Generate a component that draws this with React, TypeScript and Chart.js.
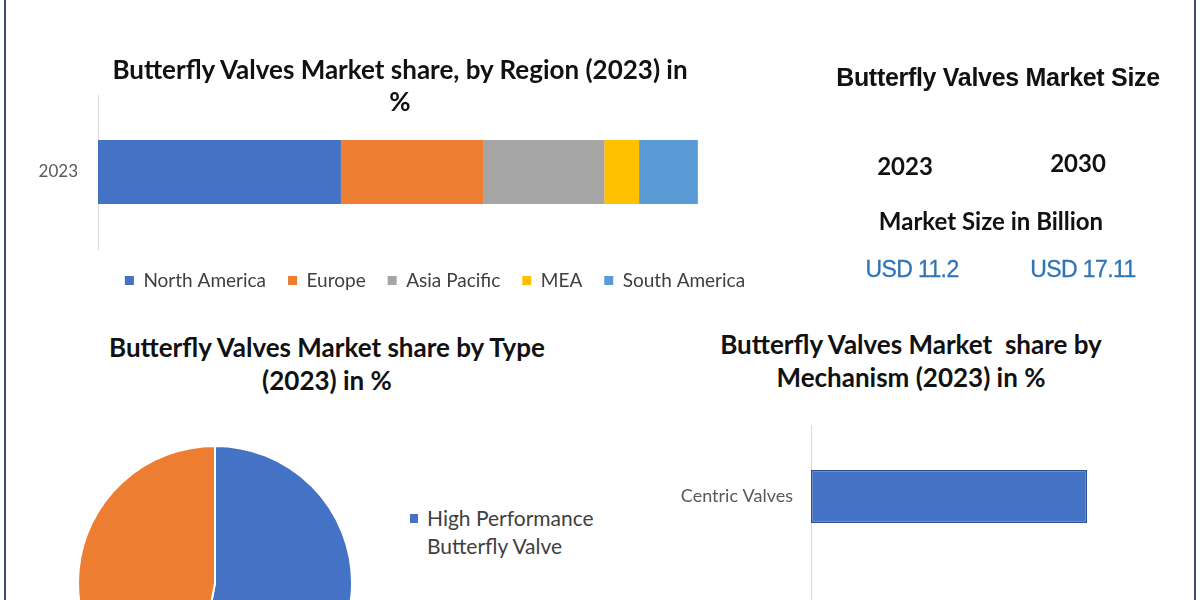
import React, { useEffect, useRef } from "react";
import { Chart, registerables } from "chart.js";

Chart.register(...registerables);

// ---- Data ----
const regionCategories = ["2023"];
const regionNames = ["North America", "Europe", "Asia Pacific", "MEA", "South America"];
const regionShares = [40.5, 23.7, 20.2, 5.8, 9.8];

const typeNames = ["High Performance Butterfly Valve", "Resilient Butterfly Valve"];
const typeLegendLines = [["High Performance", "Butterfly Valve"], ["Resilient", "Butterfly Valve"]];
const typeShares = [53, 47];

const mechanismNames = ["Centric Valves", "Eccentric Valves"];
const mechanismShares = [57, 43];

const marketYears = ["2023", "2030"];
const marketValues = ["11.2", "17.11"];

// ---- Styles ----
const REGION_COLORS = ["#4472C4", "#ED7D31", "#A5A5A5", "#FFC000", "#5B9BD5"];
const TYPE_COLORS = ["#4472C4", "#ED7D31"];
const FONT = "Lato, 'Open Sans', sans-serif";
const ARIAL = "'Liberation Sans', Arial, sans-serif";

function ChartCanvas({ config, style }: { config: any; style: React.CSSProperties }) {
  const ref = useRef<HTMLCanvasElement | null>(null);
  useEffect(() => {
    if (!ref.current) return;
    const chart = new Chart(ref.current, config);
    return () => chart.destroy();
  }, []);
  return (
    <canvas
      ref={ref}
      width={style.width as number}
      height={style.height as number}
      style={{ position: "absolute", display: "block", ...style }}
    />
  );
}

Chart.defaults.font.family = FONT;

const regionConfig = {
  type: "bar",
  data: {
    labels: regionCategories,
    datasets: regionNames.map((name, i) => ({
      label: name,
      data: [regionShares[i]],
      backgroundColor: REGION_COLORS[i],
      borderWidth: 0,
      barPercentage: 0.415,
      categoryPercentage: 1,
    })),
  },
  options: {
    indexAxis: "y",
    responsive: false,
    animation: false,
    layout: { padding: { top: 95, right: 0, left: 0, bottom: 0 } },
    scales: {
      x: { stacked: true, min: 0, max: 128.7, display: false },
      y: {
        stacked: true,
        grid: { display: false, drawTicks: false },
        border: { display: true, color: "#D9D9D9", width: 1 },
        ticks: { font: { size: 17, family: FONT }, color: "#595959", padding: 20 },
        afterFit: (s: any) => {
          s.width = 98;
          s.paddingTop = 0;
          s.paddingBottom = 0;
        },
      },
    },
    plugins: {
      legend: {
        position: "bottom",
        labels: {
          boxWidth: 9,
          boxHeight: 9,
          padding: 22,
          color: "#404040",
          font: { size: 19, family: FONT },
        },
      },
      tooltip: { enabled: false },
    },
  },
};

const typeConfig = {
  type: "pie",
  data: {
    labels: typeNames,
    datasets: [
      {
        data: typeShares,
        backgroundColor: TYPE_COLORS,
        borderColor: "#ffffff",
        borderWidth: 2,
      },
    ],
  },
  options: {
    responsive: false,
    animation: false,
    layout: { padding: 4 },
    plugins: { legend: { display: false }, tooltip: { enabled: false } },
  },
};

const mechanismConfig = {
  type: "bar",
  data: {
    labels: mechanismNames,
    datasets: [
      {
        label: "Share",
        data: mechanismShares,
        backgroundColor: "#4472C4",
        borderColor: "#2F528F",
        borderWidth: 1.5,
        borderSkipped: false,
        barPercentage: 0.37,
        categoryPercentage: 1,
      },
    ],
  },
  options: {
    indexAxis: "y",
    responsive: false,
    animation: false,
    layout: { padding: { top: 10, right: 10, bottom: 14, left: 0 } },
    scales: {
      x: { min: 0, max: 70, display: false },
      y: {
        grid: { display: false, drawTicks: false },
        border: { display: true, color: "#D9D9D9", width: 1 },
        ticks: { font: { size: 18, family: FONT }, color: "#595959", padding: 18 },
        afterFit: (s: any) => {
          s.width = 171;
          s.paddingTop = 0;
          s.paddingBottom = 0;
        },
      },
    },
    plugins: { legend: { display: false }, tooltip: { enabled: false } },
  },
};

const titleStyle: React.CSSProperties = {
  position: "absolute",
  fontFamily: FONT,
  fontWeight: 700,
  fontSize: 26,
  lineHeight: "33px",
  color: "#111",
  textAlign: "center",
  whiteSpace: "pre",
};

export default function App() {
  return (
    <div
      style={{
        position: "fixed",
        left: 0,
        top: 0,
        width: 1200,
        height: 600,
        overflow: "hidden",
        background: "#ffffff",
      }}
    >
      {/* frame lines */}
      <div style={{ position: "absolute", left: 4, top: 0, width: 2, height: 600, background: "#3E4C72" }} />
      <div style={{ position: "absolute", left: 1194, top: 0, width: 2, height: 600, background: "#3E4C72" }} />

      {/* Region chart */}
      <ChartCanvas config={regionConfig} style={{ left: 0, top: 0, width: 870, height: 300 }} />
      <div style={{ ...titleStyle, left: 100, width: 600, top: 53, lineHeight: "32px" }}>
        {"Butterfly Valves Market share, by Region (2023) in\n%"}
      </div>

      {/* Market size block */}
      <div
        style={{
          position: "absolute",
          left: 798,
          width: 400,
          top: 63,
          lineHeight: "29px",
          textAlign: "center",
          fontFamily: ARIAL,
          fontWeight: 700,
          fontSize: 25,
          letterSpacing: -0.3,
          color: "#111",
        }}
      >
        Butterfly Valves Market Size
      </div>
      <div style={{ position: "absolute", left: 855, width: 100, top: 151, textAlign: "center", fontFamily: FONT, fontWeight: 700, fontSize: 24, color: "#111" }}>
        {marketYears[0]}
      </div>
      <div style={{ position: "absolute", left: 1028, width: 100, top: 148, textAlign: "center", fontFamily: FONT, fontWeight: 700, fontSize: 24, color: "#111" }}>
        {marketYears[1]}
      </div>
      <div style={{ position: "absolute", left: 841, width: 300, top: 206, lineHeight: "29px", textAlign: "center", fontFamily: FONT, fontWeight: 700, fontSize: 24, color: "#111" }}>
        Market Size in Billion
      </div>
      <div style={{ position: "absolute", left: 842, width: 140, top: 256, lineHeight: "27px", textAlign: "center", fontFamily: ARIAL, fontSize: 23, letterSpacing: -0.6, color: "#2E75B6", WebkitTextStroke: "0.3px #2E75B6" }}>
        {"USD " + marketValues[0]}
      </div>
      <div style={{ position: "absolute", left: 1013, width: 140, top: 256, lineHeight: "27px", textAlign: "center", fontFamily: ARIAL, fontSize: 23, letterSpacing: -0.6, color: "#2E75B6", WebkitTextStroke: "0.3px #2E75B6" }}>
        {"USD " + marketValues[1]}
      </div>

      {/* Type pie */}
      <div style={{ ...titleStyle, left: 27, width: 600, top: 331 }}>
        {"Butterfly Valves Market share by Type\n(2023) in %"}
      </div>
      <ChartCanvas config={typeConfig} style={{ left: 73, top: 441, width: 284, height: 284 }} />
      {typeLegendLines.map((lines, i) => (
        <div
          key={i}
          style={{
            position: "absolute",
            left: 410,
            top: 504 + i * 100,
            fontFamily: FONT,
            fontSize: 21,
            lineHeight: "28px",
            color: "#404040",
          }}
        >
          <span
            style={{
              position: "absolute",
              left: 0,
              top: 10,
              width: 8,
              height: 9,
              background: TYPE_COLORS[i],
            }}
          />
          <div style={{ marginLeft: 17, whiteSpace: "pre" }}>{lines.join("\n")}</div>
        </div>
      ))}

      {/* Mechanism bar */}
      <div style={{ ...titleStyle, left: 611, width: 600, top: 328 }}>
        {"Butterfly Valves Market  share by\nMechanism (2023) in %"}
      </div>
      <ChartCanvas config={mechanismConfig} style={{ left: 640, top: 415, width: 520, height: 310 }} />
    </div>
  );
}
